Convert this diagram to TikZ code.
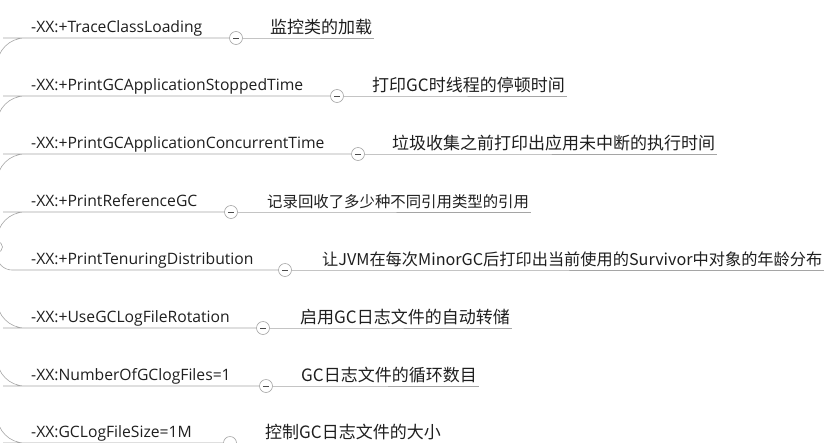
\documentclass[tikz,border=0pt]{standalone}
\usepackage{fontspec}
\setmainfont{Open Sans}
\newfontfamily\cjkfont{Noto Sans CJK SC}
\usetikzlibrary{positioning}
\definecolor{C_line}{RGB}{165,165,165}
\definecolor{C_text}{RGB}{30,30,30}

\begin{document}
\begin{tikzpicture}[
    x=1pt, y=-1pt,
    font=\fontsize{15.7}{18}\selectfont,
    opt/.style={anchor=south west, inner xsep=0pt, inner ysep=0pt, text depth=5pt, text=C_text},
    desc/.style={anchor=south west, inner xsep=2pt, inner ysep=0pt, text depth=4pt, text=C_text,
                 font=\cjkfont\fontsize{17}{20}\selectfont},
    fold/.style={draw=C_line, circle, fill=white, minimum size=13pt, inner sep=0pt, semithick,
                 path picture={\draw[C_text!80, semithick] (-3pt,0pt) -- (3pt,0pt);}},
    branch/.style={draw=C_line, semithick, rounded corners=28pt},
    link/.style={draw=C_line, semithick},
]
\useasboundingbox (0,0) rectangle (840,442);

% Root (mostly off the left edge)
\node[fold, minimum size=11pt] (root) at (-3,247) {};

% Options
\node[opt] (o1) at (31,38)  {-XX:+TraceClassLoading};
\node[opt] (o2) at (31,96)  {-XX:+PrintGCApplicationStoppedTime};
\node[opt] (o3) at (31,154) {-XX:+PrintGCApplicationConcurrentTime};
\node[opt] (o4) at (31,212) {-XX:+PrintReferenceGC};
\node[opt] (o5) at (31,270) {-XX:+PrintTenuringDistribution};
\node[opt] (o6) at (31,328) {-XX:+UseGCLogFileRotation};
\node[opt] (o7) at (31,386) {-XX:NumberOfGClogFiles=1};
\node[opt] (o8) at (31,443) {-XX:GCLogFileSize=1M};

% Fold markers
\node[fold] (f1) at (236,38)  {};
\node[fold] (f2) at (337,96)  {};
\node[fold] (f3) at (358,154) {};
\node[fold] (f4) at (231,212) {};
\node[fold] (f5) at (285,270) {};
\node[fold] (f6) at (263,328) {};
\node[fold] (f7) at (266,386) {};
\node[fold] (f8) at (230,443) {};

% Descriptions
\node[desc] (d1) at (268,38)  {监控类的加载};
\node[desc] (d2) at (370,96)  {打印GC时线程的停顿时间};
\node[desc] (d3) at (390,154) {垃圾收集之前打印出应用未中断的执行时间};
\node[desc, font=\cjkfont\fontsize{15.4}{18}\selectfont] (d4) at (265,212) {记录回收了多少种不同引用类型的引用};
\node[desc, font=\cjkfont\fontsize{16.2}{19}\selectfont] (d5) at (320,270) {让JVM在每次MinorGC后打印出当前使用的Survivor中对象的年龄分布};
\node[desc] (d6) at (298,328) {启用GC日志文件的自动转储};
\node[desc] (d7) at (299,386) {GC日志文件的循环数目};
\node[desc] (d8) at (263,443) {控制GC日志文件的大小};

% Branches from the root
\draw[branch] (root) |- (o1.south west) -- (f1);
\draw[branch] (root) |- (o2.south west) -- (f2);
\draw[branch] (root) |- (o3.south west) -- (f3);
\draw[branch] (root) |- (o4.south west) -- (f4);
\draw[branch, rounded corners=15pt] (root) |- (o5.south west) -- (f5);
\draw[branch] (root) |- (o6.south west) -- (f6);
\draw[branch] (root) |- (o7.south west) -- (f7);
\draw[branch] (root) |- (o8.south west) -- (f8);

% Links to the descriptions
\draw[link] (f1) -- (d1.south west) -- (d1.south east);
\draw[link] (f2) -- (d2.south west) -- (d2.south east);
\draw[link] (f3) -- (d3.south west) -- (d3.south east);
\draw[link] (f4) -- (d4.south west) -- (d4.south east);
\draw[link] (f5) -- (d5.south west) -- (d5.south east);
\draw[link] (f6) -- (d6.south west) -- (d6.south east);
\draw[link] (f7) -- (d7.south west) -- (d7.south east);
\draw[link] (f8) -- (d8.south west) -- (d8.south east);
\end{tikzpicture}
\end{document}
